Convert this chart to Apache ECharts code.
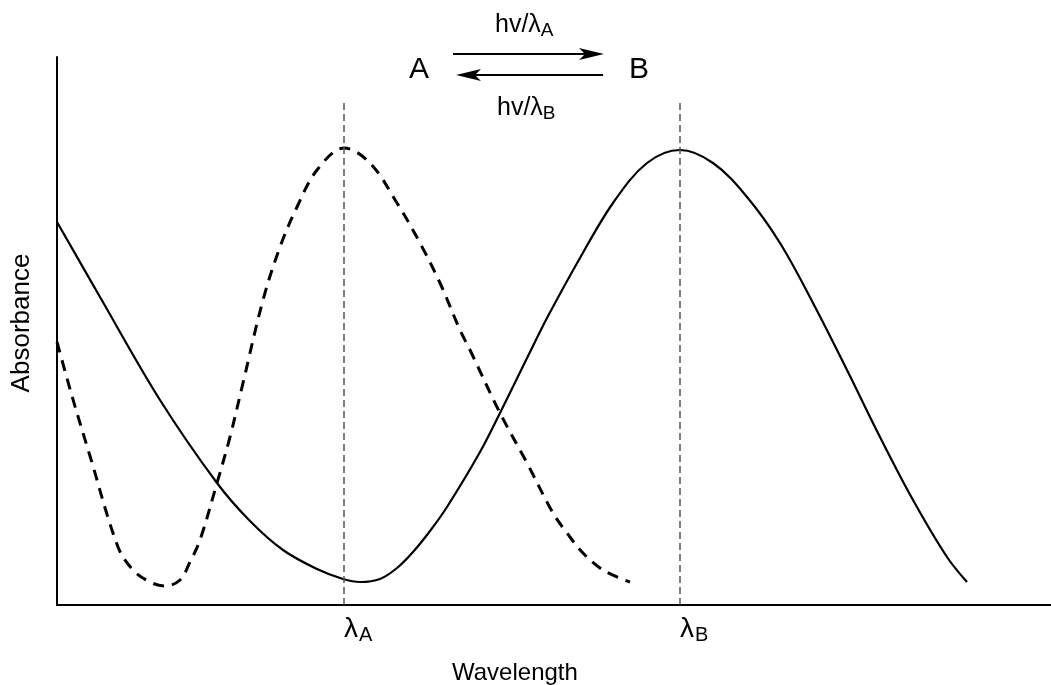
<!DOCTYPE html>
<html>
<head>
<meta charset="utf-8">
<script src="https://cdn.jsdelivr.net/npm/echarts@6/dist/echarts.min.js"></script>
<style>
    html, body { margin: 0; padding: 0; background: #fff; }
    #chart { width: 1051px; height: 685px; }
</style>
</head>
<body>
<div id="chart"></div>
<script>
// absorbance spectra (arbitrary units)
const formBX = [0, 43, 103, 160, 193, 226, 260, 286, 303, 323, 340, 356, 373, 390, 423, 443, 473, 490, 523, 556, 590, 623, 656, 690, 723, 756, 790, 823, 856, 890, 910];
const formBY = [383, 308, 205, 122, 84, 55, 36, 26, 23, 26, 37, 53, 74, 98, 153, 192, 253, 287, 347, 402, 442, 455, 442, 408, 362, 302, 235, 168, 105, 48, 23];
const formAX = [0, 15, 33, 61, 76, 93, 108, 123, 133, 143, 160, 173, 186, 206, 223, 240, 260, 287, 313, 340, 363, 383, 403, 413, 443, 470, 496, 510, 526, 546, 573];
const formAY = [263, 209, 149, 58, 35, 23, 19, 25, 43, 65, 122, 168, 222, 305, 358, 398, 435, 457, 442, 402, 362, 322, 275, 255, 192, 142, 92, 72, 52, 35, 23];
const peakPos = [287, 623];
const peakNames = ["A", "B"];
const guideTop = 505;
const xMax = 994;
const yMax = 548;

const zip = (xs, ys) => xs.map((x, i) => [x, ys[i]]);

const myChart = echarts.init(document.getElementById("chart"));
const font = "Liberation Sans, Arial, sans-serif";
const axisLineStyle = { color: "#000", width: 2 };
const hvRich = {
    t: { fontSize: 25, fontFamily: font, fill: "#000" },
    s: { fontSize: 19, fontFamily: font, fill: "#000", padding: [11, 0, 0, 0] }
};

const option = {
    animation: false,
    backgroundColor: "#fff",
    textStyle: { fontFamily: font, color: "#000" },
    grid: { left: 57, right: 0, top: 57, bottom: 80 },
    xAxis: {
        type: "value",
        min: 0,
        max: xMax,
        axisLine: { show: true, lineStyle: axisLineStyle },
        axisTick: { show: false },
        splitLine: { show: false },
        axisLabel: {
            customValues: peakPos,
            margin: 8,
            align: "left",
            color: "#000",
            formatter: function (value) {
                const i = peakPos.indexOf(value);
                return "{l|λ}{s|" + peakNames[i] + "}";
            },
            rich: {
                l: { fontSize: 28, fontFamily: font, color: "#000" },
                s: { fontSize: 20, fontFamily: font, color: "#000", padding: [12, 0, 0, 1] }
            }
        }
    },
    yAxis: {
        type: "value",
        min: 0,
        max: yMax,
        axisLine: { show: true, lineStyle: axisLineStyle },
        axisTick: { show: false },
        axisLabel: { show: false },
        splitLine: { show: false }
    },
    series: [
        {
            name: "A",
            type: "line",
            data: zip(formAX, formAY),
            smooth: 0.35,
            showSymbol: false,
            lineStyle: { color: "#000", width: 3, type: [11, 8] },
            markLine: {
                silent: true,
                symbol: "none",
                label: { show: false },
                lineStyle: { color: "#555", width: 1.5, type: [7, 4] },
                data: peakPos.map(p => [{ coord: [p, 0] }, { coord: [p, guideTop] }])
            }
        },
        {
            name: "B",
            type: "line",
            data: zip(formBX, formBY),
            smooth: 0.35,
            showSymbol: false,
            lineStyle: { color: "#000", width: 2.2, type: "solid" }
        }
    ],
    graphic: [
        {
            type: "text", x: 22, y: 323, rotation: Math.PI / 2,
            style: { text: "Absorbance", fontSize: 26, fontFamily: font, fill: "#000", align: "center", verticalAlign: "middle" }
        },
        {
            type: "text", x: 452, y: 661,
            style: { text: "Wavelength", fontSize: 24, fontFamily: font, fill: "#000" }
        },
        {
            type: "text", x: 419, y: 70,
            style: { text: "A", fontSize: 30, fontFamily: font, fill: "#000", align: "center", verticalAlign: "middle" }
        },
        {
            type: "text", x: 639, y: 70,
            style: { text: "B", fontSize: 30, fontFamily: font, fill: "#000", align: "center", verticalAlign: "middle" }
        },
        {
            type: "text", x: 495, y: 10,
            style: { text: "{t|hv/λ}{s|A}", rich: hvRich }
        },
        {
            type: "text", x: 497, y: 93,
            style: { text: "{t|hv/λ}{s|B}", rich: hvRich }
        },
        {
            type: "line",
            shape: { x1: 453, y1: 54, x2: 590, y2: 54 },
            style: { stroke: "#000", lineWidth: 2 }
        },
        {
            type: "polygon",
            shape: { points: [[604, 54], [579, 48], [585, 54], [579, 60]] },
            style: { fill: "#000" }
        },
        {
            type: "line",
            shape: { x1: 470, y1: 75, x2: 603, y2: 75 },
            style: { stroke: "#000", lineWidth: 2 }
        },
        {
            type: "polygon",
            shape: { points: [[456, 75], [481, 69], [475, 75], [481, 81]] },
            style: { fill: "#000" }
        }
    ]
};

myChart.setOption(option);
window.addEventListener("resize", () => myChart.resize());
</script>
</body>
</html>
